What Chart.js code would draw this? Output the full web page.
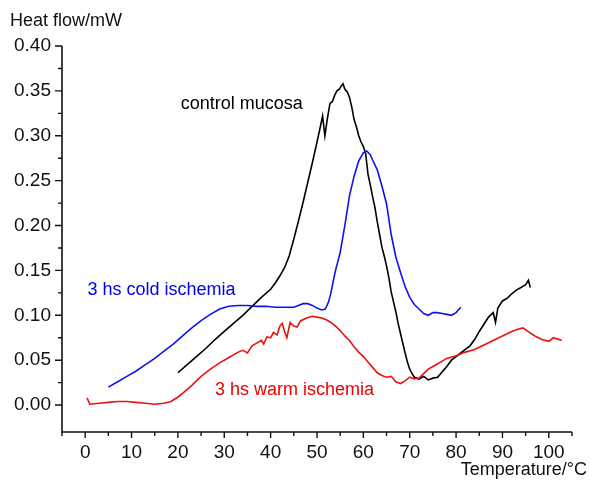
<!DOCTYPE html>
<html>
<head>
<meta charset="utf-8">
<script src="https://cdn.jsdelivr.net/npm/chart.js@4/dist/chart.umd.min.js"></script>
<style>
  html, body { margin: 0; padding: 0; background: #fff; }
  #wrap { width: 589px; height: 481px; }
</style>
</head>
<body>
<div id="wrap"><canvas id="c"></canvas></div>
<script>
// control mucosa (black)
const controlT = [20, 22, 24, 26, 28, 30, 32, 34, 36, 38, 40, 41, 42, 43, 44, 45, 46, 47, 48, 49, 50, 50.8, 51.2, 51.7, 52.2, 52.8, 53.3, 53.8, 54.3, 54.8, 55.2, 55.6, 56, 56.5, 57, 57.5, 58, 58.5, 59, 59.5, 60, 60.5, 61, 61.5, 62, 62.5, 63, 63.5, 64, 64.5, 65, 65.5, 66, 66.5, 67, 67.5, 68, 68.5, 69, 69.5, 70, 70.5, 71, 72, 73, 74, 75, 76, 77, 78, 79, 80, 81, 82, 83, 84, 85, 86, 87, 88, 88.5, 89, 90, 91, 92, 93, 94, 95, 95.6, 96];
const controlH = [0.036, 0.045, 0.054, 0.063, 0.073, 0.082, 0.091, 0.100, 0.110, 0.120, 0.129, 0.136, 0.144, 0.153, 0.166, 0.185, 0.205, 0.226, 0.248, 0.270, 0.293, 0.312, 0.322, 0.300, 0.318, 0.336, 0.338, 0.345, 0.350, 0.352, 0.355, 0.358, 0.352, 0.349, 0.343, 0.332, 0.318, 0.310, 0.300, 0.293, 0.288, 0.280, 0.257, 0.245, 0.232, 0.220, 0.204, 0.190, 0.176, 0.166, 0.155, 0.142, 0.126, 0.115, 0.104, 0.091, 0.080, 0.069, 0.058, 0.048, 0.040, 0.035, 0.031, 0.029, 0.032, 0.028, 0.030, 0.031, 0.037, 0.043, 0.050, 0.054, 0.058, 0.062, 0.066, 0.073, 0.082, 0.090, 0.098, 0.103, 0.092, 0.108, 0.116, 0.119, 0.124, 0.128, 0.131, 0.134, 0.139, 0.131];

// 3 hs cold ischemia (blue)
const coldT = [5, 7, 9, 11, 13, 15, 17, 19, 21, 23, 25, 27, 29, 31, 33, 35, 37, 39, 41, 43, 45, 46, 47, 48, 49, 50, 51, 51.8, 52.5, 53, 53.5, 54, 55, 56, 57, 58, 59, 60, 60.7, 61.5, 62, 63, 64, 65, 66, 67, 68, 69, 70, 71, 72, 73, 74, 75, 76, 77, 78, 79, 80, 81];
const coldH = [0.020, 0.026, 0.032, 0.038, 0.045, 0.052, 0.060, 0.068, 0.077, 0.086, 0.094, 0.101, 0.107, 0.110, 0.111, 0.111, 0.110, 0.110, 0.109, 0.109, 0.109, 0.111, 0.113, 0.113, 0.111, 0.108, 0.106, 0.107, 0.115, 0.125, 0.138, 0.150, 0.170, 0.200, 0.233, 0.255, 0.272, 0.281, 0.283, 0.279, 0.273, 0.262, 0.244, 0.224, 0.190, 0.165, 0.148, 0.132, 0.120, 0.112, 0.107, 0.102, 0.100, 0.103, 0.103, 0.102, 0.101, 0.100, 0.103, 0.109];

// 3 hs warm ischemia (red)
const warmT = [0.4, 1, 3, 5, 7, 9, 11, 13, 15, 17, 18.5, 20, 21, 23, 25, 27, 29, 31, 33, 34, 35, 36, 37, 38, 38.5, 39.2, 40, 40.6, 41.4, 42, 42.5, 43, 43.5, 44.2, 45, 45.7, 46.5, 47.8, 49, 50, 51, 52, 53, 54, 55, 56, 57, 58, 59, 60, 61, 62, 63, 64, 65, 66, 67, 68, 69, 70, 71, 72, 73, 74, 75, 76, 77, 78, 80, 82, 84, 86, 88, 90, 92, 93, 94.4, 95.5, 97, 98.5, 100, 101, 102.8];
const warmH = [0.008, 0.001, 0.002, 0.003, 0.004, 0.004, 0.003, 0.002, 0.001, 0.002, 0.004, 0.009, 0.013, 0.022, 0.032, 0.040, 0.047, 0.053, 0.059, 0.061, 0.058, 0.066, 0.069, 0.072, 0.068, 0.076, 0.075, 0.081, 0.078, 0.088, 0.091, 0.082, 0.075, 0.092, 0.088, 0.087, 0.094, 0.097, 0.099, 0.098, 0.097, 0.095, 0.092, 0.088, 0.083, 0.077, 0.072, 0.065, 0.059, 0.054, 0.048, 0.042, 0.036, 0.033, 0.031, 0.032, 0.026, 0.024, 0.027, 0.031, 0.029, 0.030, 0.035, 0.040, 0.043, 0.046, 0.049, 0.052, 0.055, 0.059, 0.062, 0.067, 0.072, 0.077, 0.082, 0.084, 0.086, 0.082, 0.077, 0.073, 0.071, 0.075, 0.072];

// axis ticks
const xTicks = [-5, 0, 5, 10, 15, 20, 25, 30, 35, 40, 45, 50, 55, 60, 65, 70, 75, 80, 85, 90, 95, 100, 105];
const yTicks = [0, 0.025, 0.05, 0.075, 0.1, 0.125, 0.15, 0.175, 0.2, 0.225, 0.25, 0.275, 0.3, 0.325, 0.35, 0.375, 0.4];

// curve labels: [text, x, y, colour]
const curveLabels = [
    ['control mucosa', 20.6, 0.335, '#000000'],
    ['3 hs cold ischemia', 0.5, 0.128, '#0000ee'],
    ['3 hs warm ischemia', 28, 0.017, '#ee0000'],
];

const FONT = "'Liberation Sans', Arial, sans-serif";

const pairs = (t, h) => t.map((v, i) => ({ x: v, y: h[i] }));
const isMultiple = (v, step) => Math.abs(Math.round(v / step) * step - v) < 1e-6;

// axis lines, tick marks, titles and curve labels
const axesPlugin = {
    id: 'axesPlugin',
    afterDraw(chart) {
        const { ctx, chartArea: a, scales: { x, y } } = chart;
        ctx.save();
        ctx.strokeStyle = '#111';
        ctx.lineWidth = 1.6;
        ctx.beginPath();
        ctx.moveTo(a.left, a.top);
        ctx.lineTo(a.left, a.bottom);
        ctx.lineTo(a.right, a.bottom);
        ctx.stroke();

        ctx.lineWidth = 1.4;
        ctx.beginPath();
        xTicks.forEach(v => {
            const px = x.getPixelForValue(v);
            const len = isMultiple(v, 10) ? 6 : 4;
            ctx.moveTo(px, a.bottom);
            ctx.lineTo(px, a.bottom + len);
        });
        yTicks.forEach(v => {
            const py = y.getPixelForValue(v);
            const len = isMultiple(v, 0.05) ? 7 : 4;
            ctx.moveTo(a.left, py);
            ctx.lineTo(a.left - len, py);
        });
        ctx.stroke();

        ctx.fillStyle = '#111';
        ctx.font = '18px ' + FONT;
        ctx.textBaseline = 'middle';
        ctx.textAlign = 'left';
        ctx.fillText('Heat flow/mW', 10, 21);
        ctx.textAlign = 'right';
        ctx.fillText('Temperature/°C', 587, 470);

        ctx.textAlign = 'left';
        curveLabels.forEach(([text, tx, ty, col]) => {
            ctx.fillStyle = col;
            ctx.fillText(text, x.getPixelForValue(tx), y.getPixelForValue(ty));
        });
        ctx.restore();
    },
};

const line = (data, color) => ({
    data,
    borderColor: color,
    borderWidth: 1.6,
    pointRadius: 0,
    showLine: true,
    tension: 0,
    fill: false,
});

new Chart(document.getElementById('c'), {
    type: 'scatter',
    data: {
        datasets: [
            line(pairs(warmT, warmH), '#ee1111'),
            line(pairs(coldT, coldH), '#1111ee'),
            line(pairs(controlT, controlH), '#000000'),
        ],
    },
    options: {
        animation: false,
        responsive: true,
        maintainAspectRatio: false,
        layout: { padding: { top: 46, right: 17, bottom: 0, left: 0 } },
        plugins: { legend: { display: false }, tooltip: { enabled: false } },
        scales: {
            x: {
                type: 'linear',
                min: -5,
                max: 105,
                grid: { display: false, drawTicks: false },
                border: { display: false },
                afterFit: s => { s.height = 49; },
                ticks: {
                    stepSize: 5,
                    autoSkip: false,
                    maxRotation: 0,
                    padding: 9,
                    color: '#111',
                    font: { family: FONT, size: 19 },
                    callback: v => (v >= 0 && v <= 100 && isMultiple(v, 10)) ? String(Math.round(v)) : '',
                },
            },
            y: {
                type: 'linear',
                min: -0.03,
                max: 0.40,
                grid: { display: false, drawTicks: false },
                border: { display: false },
                afterFit: s => { s.width = 62; },
                ticks: {
                    stepSize: 0.05,
                    autoSkip: false,
                    padding: 11,
                    color: '#111',
                    font: { family: FONT, size: 19 },
                    callback: v => (v >= -1e-6 && isMultiple(v, 0.05)) ? v.toFixed(2) : '',
                },
            },
        },
    },
    plugins: [axesPlugin],
});
</script>
</body>
</html>
